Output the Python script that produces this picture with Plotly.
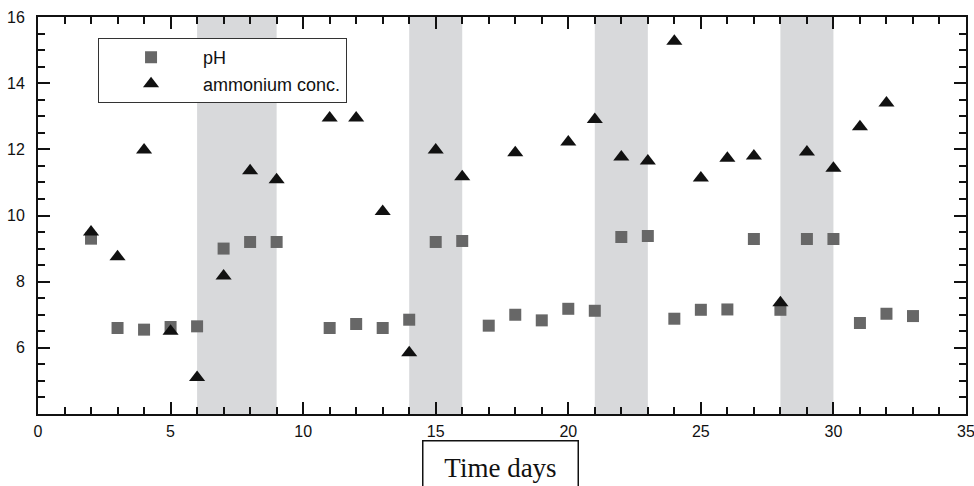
import plotly.graph_objects as go

days_ph = [2, 3, 4, 5, 6, 7, 8, 9, 11, 12, 13, 14, 15, 16, 17, 18, 19, 20, 21, 22, 23, 24, 25, 26, 27, 28, 29, 30, 31, 32, 33]
ph = [9.3, 6.6, 6.55, 6.63, 6.65, 9.0, 9.2, 9.2, 6.6, 6.72, 6.6, 6.85, 9.2, 9.23, 6.67, 7.0, 6.83, 7.18, 7.12, 9.35, 9.38, 6.88, 7.15, 7.16, 9.29, 7.15, 9.29, 9.29, 6.75, 7.03, 6.96]

days_nh4 = [2, 3, 4, 5, 6, 7, 8, 9, 11, 12, 13, 14, 15, 16, 18, 20, 21, 22, 23, 24, 25, 26, 27, 28, 29, 30, 31, 32]
nh4 = [9.5, 8.75, 11.98, 6.5, 5.1, 8.17, 11.35, 11.08, 12.95, 12.95, 10.12, 5.85, 11.98, 11.17, 11.9, 12.22, 12.9, 11.77, 11.65, 15.27, 11.13, 11.73, 11.8, 7.36, 11.92, 11.43, 12.68, 13.4]

bands = [(6, 9), (14, 16), (21, 23), (28, 30)]

fig = go.Figure()
fig.add_trace(go.Scatter(x=days_ph, y=ph, mode="markers", name="pH",
                         marker=dict(symbol="square", size=12, color="#676767")))
fig.add_trace(go.Scatter(x=days_nh4, y=nh4, mode="markers", name="ammonium conc.",
                         marker=dict(symbol="triangle-up", size=14, color="#111111")))

for a, b in bands:
    fig.add_vrect(x0=a, x1=b, fillcolor="#d8d9db", opacity=1, line_width=0, layer="below")

axis_common = dict(showline=True, linewidth=2, linecolor="#111", mirror="allticks",
                   ticks="inside", ticklen=12, tickwidth=2, tickcolor="#111",
                   showgrid=False, zeroline=False, automargin=False,
                   ticklabeloverflow="allow",
                   tickfont=dict(family="Liberation Sans, Arial", size=16, color="#111"))

fig.update_xaxes(range=[0, 35], dtick=5, tick0=0, ticklabelstandoff=2,
                 minor=dict(dtick=1, ticks="inside", ticklen=7, tickwidth=2, tickcolor="#111"),
                 **axis_common)
fig.update_yaxes(range=[4, 16], tickvals=[6, 8, 10, 12, 14, 16], ticklabelstandoff=8,
                 minor=dict(dtick=0.5, tick0=4, ticks="inside", ticklen=7, tickwidth=2, tickcolor="#111"),
                 **axis_common)

fig.add_annotation(text="Time days", xref="paper", yref="paper", x=0.4985, y=-0.065,
                   xanchor="center", yanchor="top", showarrow=False,
                   font=dict(family="Liberation Serif, Times New Roman", size=27, color="#111"),
                   bordercolor="#111", borderwidth=1.5, width=152, height=50, bgcolor="white")

fig.update_layout(
    width=974, height=486,
    margin=dict(l=38, r=8, t=17, b=72),
    paper_bgcolor="white", plot_bgcolor="white",
    showlegend=True,
    legend=dict(x=0.0647, y=0.947, xanchor="left", yanchor="top",
                bordercolor="#333", borderwidth=1, bgcolor="white",
                font=dict(family="Liberation Sans, Arial", size=18, color="#111"),
                itemwidth=94, tracegroupgap=0),
)

fig.write_html("out.html")
